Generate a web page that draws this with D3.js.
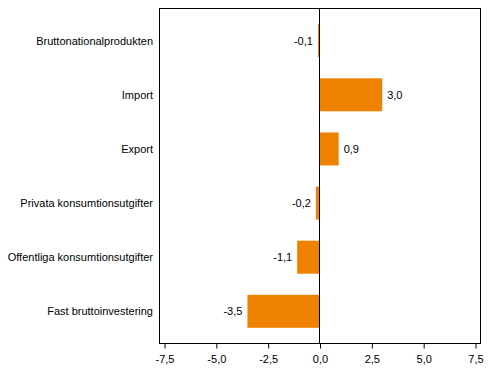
<!DOCTYPE html>
<html><head><meta charset="utf-8">
<script src="https://cdn.jsdelivr.net/npm/d3@7"></script>
<style>body{margin:0;background:#fff}svg{display:block}text{font-family:"Liberation Sans",Arial,sans-serif;font-size:11px;fill:#000}</style>
</head><body><svg id="c" width="491" height="378"></svg>
<script>
const categories = ["Bruttonationalprodukten","Import","Export","Privata konsumtionsutgifter","Offentliga konsumtionsutgifter","Fast bruttoinvestering"];
const values = [-0.1, 3.0, 0.9, -0.2, -1.1, -3.5];
const tickValues = [-7.5,-5,-2.5,0,2.5,5,7.5];
const fmt = v => d3.format(".1f")(v).replace(".", ",").replace("−","-");

(function(){
const svg = d3.select("#c");
const pL = 159.5, pR = 480.5, pT = 8.5, pB = 343.5;
const x = d3.scaleLinear().domain([-7.5,7.5]).range([164.5,475.5]);
const y = d3.scaleBand().domain(categories).range([pT,pB]).paddingInner(0.39).paddingOuter(0.29);

svg.append("g").selectAll("rect").data(values).join("rect")
  .attr("x", d => Math.min(x(0), x(d)))
  .attr("width", d => Math.abs(x(d)-x(0)))
  .attr("y", (d,i) => y(categories[i]))
  .attr("height", y.bandwidth())
  .attr("fill", "#ef8200");

svg.append("rect").attr("x",pL).attr("y",pT).attr("width",pR-pL).attr("height",pB-pT)
  .attr("fill","none").attr("stroke","#000").attr("stroke-width",1);
svg.append("line").attr("x1",Math.round(x(0))-0.5).attr("x2",Math.round(x(0))-0.5).attr("y1",pT).attr("y2",pB).attr("stroke","#000");

const xa = svg.append("g").attr("transform",`translate(0,${pB})`)
  .call(d3.axisBottom(x).tickValues(tickValues).tickSize(5).tickFormat(fmt));
xa.select(".domain").remove();
xa.selectAll("line").attr("stroke","#000");
xa.selectAll("text").attr("dy","0.71em").attr("y",12).style("font-family",'"Liberation Sans",Arial,sans-serif').style("font-size","11px").attr("fill","#000");

svg.append("g").selectAll("text").data(categories).join("text")
  .attr("x",153).attr("y",d=>y(d)+y.bandwidth()/2).attr("dy","0.35em")
  .attr("text-anchor","end").text(d=>d);

svg.append("g").selectAll("text").data(values).join("text")
  .attr("x", d => d>=0 ? x(d)+5 : x(d)-5)
  .attr("y", (d,i) => y(categories[i])+y.bandwidth()/2).attr("dy","0.35em")
  .attr("text-anchor", d => d>=0 ? "start":"end")
  .text(fmt);
})();
</script></body></html>
